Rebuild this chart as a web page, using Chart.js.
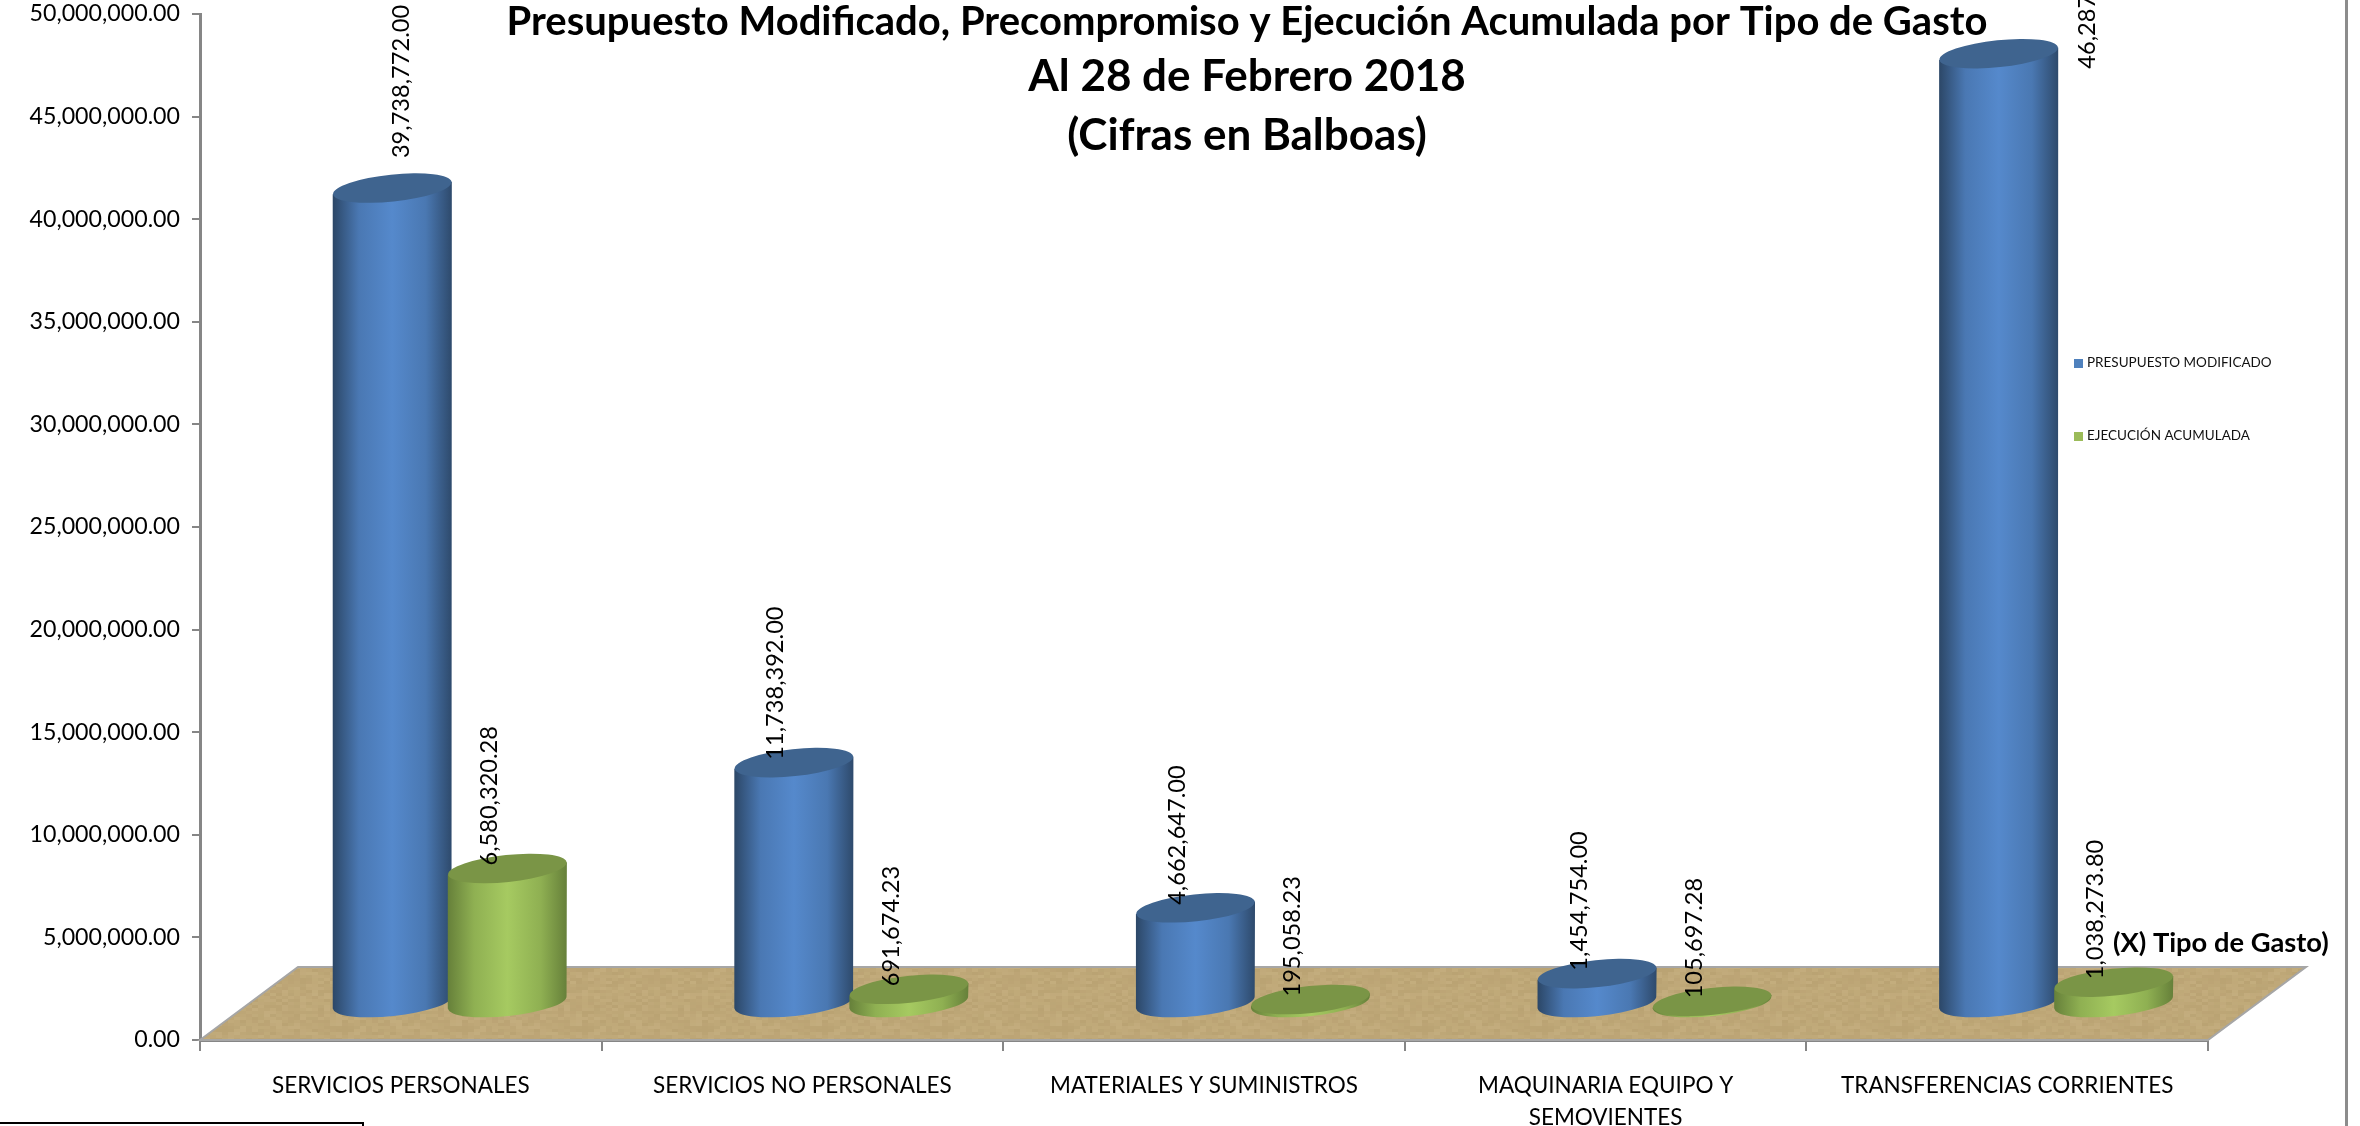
<!DOCTYPE html>
<html>
<head>
<meta charset="utf-8">
<title>Presupuesto Modificado</title>
<script src="https://cdn.jsdelivr.net/npm/chart.js@4"></script>
<style>
  html, body { margin: 0; padding: 0; background: #fff; overflow: hidden; }
  #wrap { width: 2360px; height: 1126px; }
</style>
</head>
<body>
<div id="wrap"><canvas id="chart"></canvas></div>
<script>
// datos
const categories = [
    'SERVICIOS PERSONALES',
    'SERVICIOS NO PERSONALES',
    'MATERIALES Y SUMINISTROS',
    ['MAQUINARIA EQUIPO Y', 'SEMOVIENTES'],
    'TRANSFERENCIAS CORRIENTES'
];
const presupuesto = [39738772.00, 11738392.00, 4662647.00, 1454754.00, 46287000.00];
const ejecucion = [6580320.28, 691674.23, 195058.23, 105697.28, 1038273.80];
const titleLines = [
    'Presupuesto Modificado, Precompromiso y Ejecución Acumulada por Tipo de Gasto',
    'Al 28 de Febrero 2018',
    '(Cifras en Balboas)'
];
const axisMax = 50000000;
const axisStep = 5000000;

const FONT = "Lato, 'Open Sans', sans-serif";
const BLUE = ['#2c4767', '#4a78b3', '#5589cc', '#4a78b2', '#2e4a6c'];
const BLUE_TOP = '#3f648f';
const GREEN = ['#66803a', '#8fb052', '#a6ca61', '#8fb052', '#66803a'];
const GREEN_TOP = '#7a9546';

// fondo en perspectiva
const depthX = 98;
const depthY = 73;

// etiquetas movidas a mano en el original [serie][categoria]
const labelNudge = { '0-0': [27, -27], '0-4': [107, 18] };

const fmt = new Intl.NumberFormat('en-US', { minimumFractionDigits: 2, maximumFractionDigits: 2 });

// textura del suelo, tipo papel
function floorPattern(ctx) {
    const tile = document.createElement('canvas');
    tile.width = 120;
    tile.height = 60;
    const t = tile.getContext('2d');
    t.fillStyle = '#bfa878';
    t.fillRect(0, 0, 120, 60);
    for (let y = 0; y < 60; y += 3) {
        for (let x = 0; x < 120; x += 6) {
            const h = Math.sin(x * 12.9898 + y * 78.233) * 43758.5453;
            const f = h - Math.floor(h);
            t.fillStyle = f > 0.5 ? 'rgba(255,240,200,' + (f - 0.5) * 0.15 + ')' : 'rgba(90,70,30,' + (0.5 - f) * 0.1 + ')';
            t.fillRect(x, y, 6, 3);
        }
    }
    return ctx.createPattern(tile, 'repeat');
}

function cylinder(ctx, cx, yTop, yBase, w, stops, topColor) {
    const rx = w / 2;
    const ry = 13.5;
    const rot = -6 * Math.PI / 180;
    const dy = rx * Math.sin(rot);

    const grad = ctx.createLinearGradient(cx - rx, 0, cx + rx, 0);
    grad.addColorStop(0, stops[0]);
    grad.addColorStop(0.22, stops[1]);
    grad.addColorStop(0.5, stops[2]);
    grad.addColorStop(0.78, stops[3]);
    grad.addColorStop(1, stops[4]);

    ctx.beginPath();
    ctx.moveTo(cx - rx, yTop - dy);
    ctx.lineTo(cx - rx, yBase - dy);
    ctx.ellipse(cx, yBase, rx, ry, rot, Math.PI, 0, true);
    ctx.lineTo(cx + rx, yTop + dy);
    ctx.closePath();
    ctx.fillStyle = grad;
    ctx.fill();

    ctx.beginPath();
    ctx.ellipse(cx, yTop, rx, ry, rot, 0, Math.PI * 2);
    ctx.fillStyle = topColor;
    ctx.fill();
}

const cylinderPlugin = {
    id: 'cylinderPlugin',
    // el suelo va debajo de las barras
    beforeDatasetsDraw(chart) {
        const { ctx, chartArea: a } = chart;
        ctx.save();
        ctx.beginPath();
        ctx.moveTo(a.left, a.bottom);
        ctx.lineTo(a.left + depthX, a.bottom - depthY);
        ctx.lineTo(a.right + depthX, a.bottom - depthY);
        ctx.lineTo(a.right, a.bottom);
        ctx.closePath();
        ctx.fillStyle = floorPattern(ctx);
        ctx.fill();
        ctx.strokeStyle = '#a6a6a6';
        ctx.lineWidth = 2;
        ctx.stroke();
        ctx.restore();
    },
    beforeDatasetDraw() {
        return false;
    },
    afterDatasetsDraw(chart) {
        const ctx = chart.ctx;
        const styles = [[BLUE, BLUE_TOP], [GREEN, GREEN_TOP]];
        ctx.save();
        categories.forEach((c, i) => {
            [0, 1].forEach(s => {
                const el = chart.getDatasetMeta(s).data[i];
                cylinder(ctx, el.x + depthX / 2, el.y - depthY / 2, el.base - depthY / 2, el.width, styles[s][0], styles[s][1]);
            });
        });
        ctx.restore();
    },
    afterDraw(chart) {
        const ctx = chart.ctx;
        ctx.save();

        // titulo
        ctx.fillStyle = '#000';
        ctx.textAlign = 'center';
        ctx.textBaseline = 'middle';
        ctx.font = 'bold 40px ' + FONT;
        ctx.fillText(titleLines[0], 1247, 22);
        ctx.font = 'bold 44px ' + FONT;
        ctx.fillText(titleLines[1], 1247, 77);
        ctx.fillText(titleLines[2], 1247, 136);

        // eje X, nombre
        ctx.textAlign = 'left';
        ctx.font = 'bold 27.3px ' + FONT;
        ctx.fillText('(X) Tipo de Gasto)', 2113, 943);

        // etiquetas de valor, giradas
        ctx.font = '23.6px ' + FONT;
        chart.data.datasets.forEach((ds, s) => {
            ds.data.forEach((v, i) => {
                const el = chart.getDatasetMeta(s).data[i];
                const n = labelNudge[s + '-' + i] || [0, 0];
                ctx.save();
                ctx.translate(el.x + depthX / 2 - 18 + n[0], el.y - depthY / 2 - 3 + n[1]);
                ctx.rotate(-Math.PI / 2);
                ctx.fillText(fmt.format(v), 0, 0);
                ctx.restore();
            });
        });

        // leyenda
        ctx.font = '13.5px ' + FONT;
        ctx.fillStyle = '#111';
        ctx.fillText(chart.data.datasets[0].label, 2087, 363);
        ctx.fillText(chart.data.datasets[1].label, 2087, 436);
        ctx.fillStyle = chart.data.datasets[0].backgroundColor;
        ctx.fillRect(2074, 359, 9, 9);
        ctx.fillStyle = chart.data.datasets[1].backgroundColor;
        ctx.fillRect(2074, 432, 9, 9);

        // marco del recorte
        ctx.fillStyle = '#8c8c8c';
        ctx.fillRect(2345, 0, 3, 1126);
        ctx.fillStyle = '#000';
        ctx.fillRect(0, 1122, 364, 2);
        ctx.fillRect(362, 1122, 2, 4);
        ctx.restore();
    }
};

new Chart(document.getElementById('chart'), {
    type: 'bar',
    data: {
        labels: categories,
        datasets: [
            { label: 'PRESUPUESTO MODIFICADO', data: presupuesto, backgroundColor: '#4f81bd' },
            { label: 'EJECUCIÓN ACUMULADA', data: ejecucion, backgroundColor: '#9bbb59' }
        ]
    },
    options: {
        responsive: true,
        maintainAspectRatio: false,
        animation: false,
        categoryPercentage: 0.573,
        barPercentage: 1.035,
        layout: { padding: { left: 0, right: 152, top: 14, bottom: 0 } },
        plugins: { legend: { display: false }, title: { display: false }, tooltip: { enabled: false } },
        scales: {
            x: {
                offset: true,
                afterFit(scale) { scale.height = 86; },
                grid: { drawOnChartArea: false, color: '#868686', tickColor: '#868686', tickLength: 11, lineWidth: 2 },
                border: { color: '#868686', width: 3 },
                ticks: { color: '#000', maxRotation: 0, autoSkip: false, padding: 19, font: { family: FONT, size: 22.5, lineHeight: 1.4 } }
            },
            y: {
                min: 0,
                max: axisMax,
                afterFit(scale) { scale.width = 200; scale.paddingTop = 0; scale.paddingBottom = 0; },
                grid: { drawOnChartArea: false, color: '#868686', tickColor: '#868686', tickLength: 8, lineWidth: 2 },
                border: { color: '#868686', width: 3 },
                ticks: {
                    stepSize: axisStep,
                    color: '#000',
                    padding: 12,
                    font: { family: FONT, size: 23.2 },
                    callback: v => fmt.format(v)
                }
            }
        }
    },
    plugins: [cylinderPlugin]
});
</script>
</body>
</html>
